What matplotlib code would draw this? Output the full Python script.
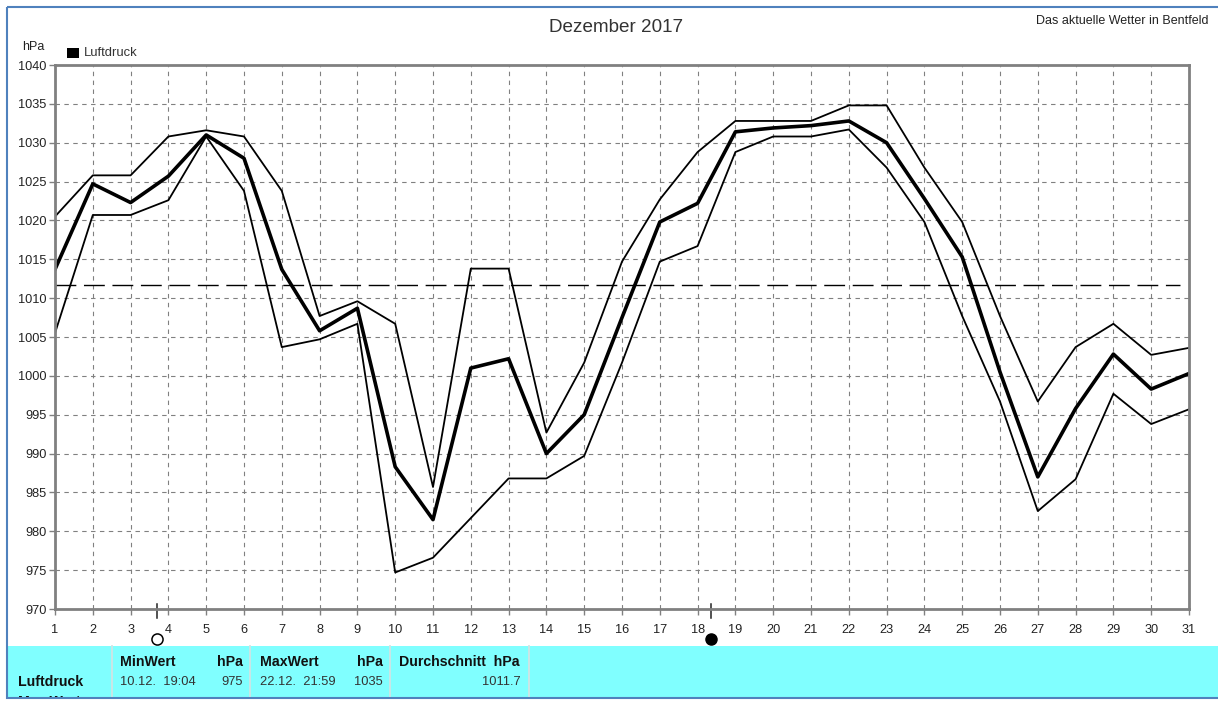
import matplotlib
matplotlib.use("Agg")
import matplotlib.pyplot as plt
from matplotlib.patches import Rectangle

plt.rcParams['font.family'] = ['Liberation Sans', 'DejaVu Sans']

days = list(range(1, 32))
mean_hpa = [1013.7, 1024.7, 1022.3, 1025.7, 1031.0, 1028.0, 1013.7, 1005.8, 1008.7, 988.3, 981.5,
            1001.0, 1002.2, 990.0, 995.0, 1007.5, 1019.8, 1022.2, 1031.4, 1031.9, 1032.2, 1032.8,
            1030.0, 1022.8, 1015.3, 1000.5, 987.0, 995.8, 1002.8, 998.3, 1000.3]
max_hpa = [1020.5, 1025.8, 1025.8, 1030.8, 1031.6, 1030.8, 1023.8, 1007.7, 1009.6, 1006.7, 985.7,
           1013.8, 1013.8, 992.7, 1001.7, 1014.7, 1022.7, 1028.8, 1032.8, 1032.8, 1032.8, 1034.8,
           1034.8, 1026.8, 1019.8, 1007.7, 996.7, 1003.7, 1006.7, 1002.7, 1003.6]
min_hpa = [1005.5, 1020.7, 1020.7, 1022.6, 1030.8, 1023.8, 1003.7, 1004.7, 1006.7, 974.7, 976.6,
           981.7, 986.8, 986.8, 989.7, 1001.7, 1014.7, 1016.7, 1028.8, 1030.8, 1030.8, 1031.7,
           1026.8, 1019.8, 1007.7, 996.7, 982.6, 986.7, 997.7, 993.8, 995.7]
month_avg = 1011.7
y_ticks = list(range(970, 1041, 5))
full_moon = 3.7
new_moon = 18.35

W, H = 1218, 702
fig = plt.figure(figsize=(W / 100, H / 100), dpi=100, facecolor='white')

# frame and info band in pixel coordinates
bg = fig.add_axes([0, 0, 1, 1])
bg.set_xlim(0, W)
bg.set_ylim(H, 0)
bg.axis('off')
bg.add_patch(Rectangle((8, 646), W - 8, 51, fc='#80ffff', ec='none'))
bg.add_patch(Rectangle((6.5, 6.5), W, 691, fc='none', ec='#4f81bd', lw=1.5))
for x in [112, 250, 390, 529]:
    bg.plot([x, x], [646, 696], color='#d0e4e4', lw=1.3)

bg.text(616, 27, 'Dezember 2017', ha='center', va='center', fontsize=13.6, color='#333333')
bg.text(1208, 21, 'Das aktuelle Wetter in Bentfeld', ha='right', va='center', fontsize=9, color='#222222')
bg.text(22, 47, 'hPa', ha='left', va='center', fontsize=9, color='#222222')
bg.add_patch(Rectangle((67, 48), 12, 10, fc='black', ec='none'))
bg.text(84, 53, 'Luftdruck', ha='left', va='center', fontsize=9.4, color='#333333')

head = dict(va='center', fontsize=10.2, fontweight='bold', color='#111111')
cell = dict(va='center', fontsize=9.3, color='#333333')
bg.text(18, 682, 'Luftdruck', ha='left', **head)
bg.text(120, 662, 'MinWert', ha='left', **head)
bg.text(243, 662, 'hPa', ha='right', **head)
bg.text(120, 682, '10.12.  19:04', ha='left', **cell)
bg.text(243, 682, '975', ha='right', **cell)
bg.text(260, 662, 'MaxWert', ha='left', **head)
bg.text(383, 662, 'hPa', ha='right', **head)
bg.text(260, 682, '22.12.  21:59', ha='left', **cell)
bg.text(383, 682, '1035', ha='right', **cell)
bg.text(399, 662, 'Durchschnitt  hPa', ha='left', **head)
bg.text(521, 682, '%.1f' % month_avg, ha='right', **cell)

# next table row, cut off by the window edge
cut = bg.text(18, 702, 'Max Wert', ha='left', **head)
cut.set_clip_on(True)
cut.set_clip_path(Rectangle((8, 646), 300, 51, transform=bg.transData))

ax = fig.add_axes([55 / W, 1 - 609 / H, (1189 - 55) / W, (609 - 65) / H])
ax.patch.set_alpha(0)
ax.set_xlim(1, 31)
ax.set_ylim(970, 1040)
ax.set_xticks(days)
ax.set_yticks(y_ticks)
ax.tick_params(axis='both', length=4, width=1, color='#808080', labelsize=9.2, labelcolor='#222222')
ax.tick_params(axis='y', pad=2)
ax.tick_params(axis='x', pad=6.5)
for s in ax.spines.values():
    s.set_color('#808080')
    s.set_linewidth(2)
ax.grid(True, color='#808080', lw=0.8, dashes=(4, 4))
ax.set_axisbelow(True)

ax.plot(days, max_hpa, color='black', lw=1.3)
ax.plot(days, min_hpa, color='black', lw=1.3)
ax.plot(days, mean_hpa, color='black', lw=2.6)
ax.plot([1, 30.75], [month_avg, month_avg], color='black', lw=1, dashes=(15, 5.5))

# moon phases below the axis
tr = ax.get_xaxis_transform()
ax.plot([full_moon, full_moon], [-0.017, 0.009], transform=tr, color='#222222', lw=1.1, clip_on=False)
ax.plot([new_moon, new_moon], [-0.017, 0.009], transform=tr, color='#222222', lw=1.1, clip_on=False)
ax.plot([full_moon], [-0.056], 'o', transform=tr, ms=8, mfc='white', mec='black', mew=1.1, clip_on=False)
ax.plot([new_moon], [-0.056], 'o', transform=tr, ms=8, mfc='black', mec='black', clip_on=False)

fig.savefig('out.png', dpi=100)
